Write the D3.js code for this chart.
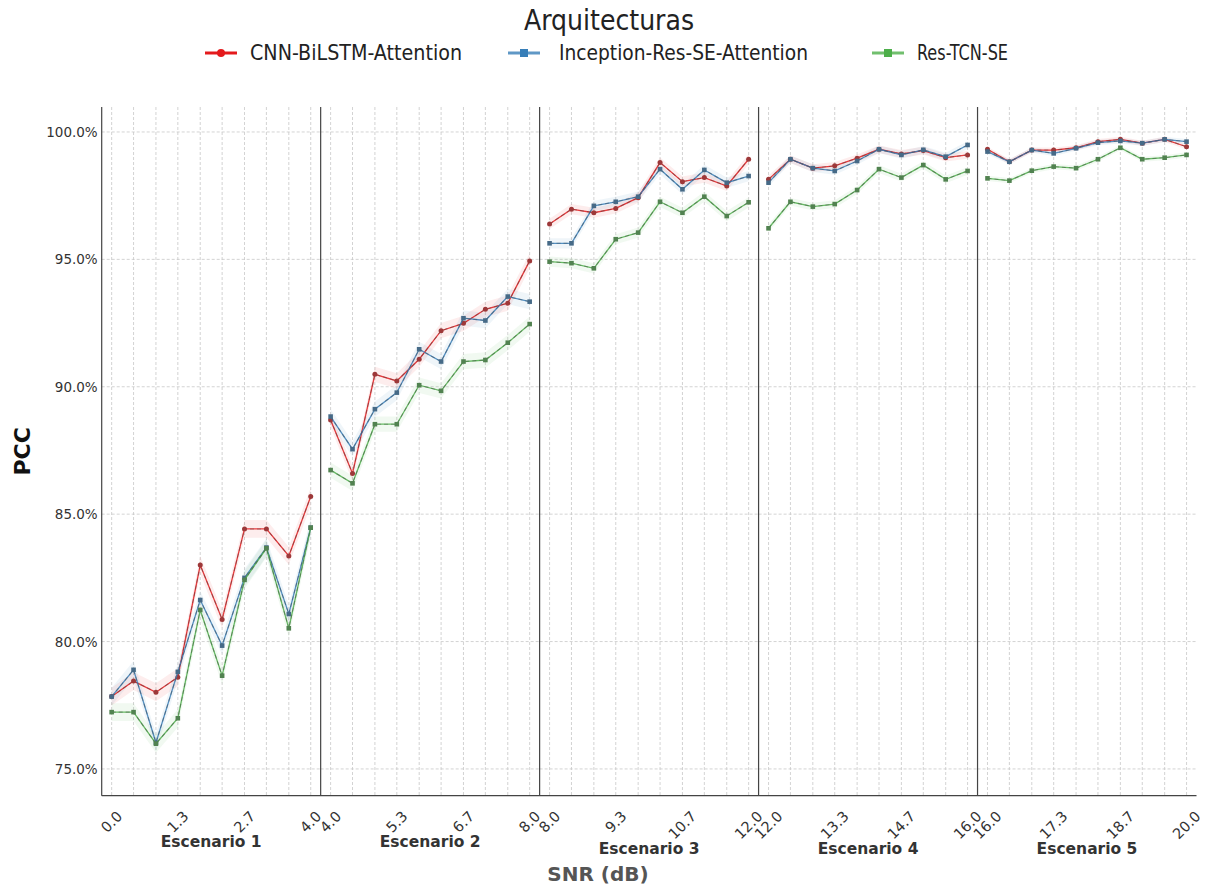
<!DOCTYPE html>
<html>
<head>
<meta charset="utf-8">
<script src="https://cdn.jsdelivr.net/npm/d3@7"></script>
<style>
  body { margin: 0; background: #fff; }
  svg { display: block; font-family: "DejaVu Sans", Verdana, sans-serif; }
</style>
</head>
<body>
<svg id="chart" width="1206" height="890"></svg>
<script>
// ---- data ----
const scenarios = ["Escenario 1", "Escenario 2", "Escenario 3", "Escenario 4", "Escenario 5"];
const scenarioStart = [0, 4, 8, 12, 16];
const snrOffsets = [0, 0.44, 0.89, 1.33, 1.78, 2.22, 2.67, 3.11, 3.56, 4];
const tickOffsets = [0, 1.33, 2.67, 4];
const yTicks = [75, 80, 85, 90, 95, 100];
const bandHalf = [0.35, 0.3, 0.2, 0.15, 0.1];   // rough width of the shaded bands

const architectures = ["CNN-BiLSTM-Attention", "Inception-Res-SE-Attention", "Res-TCN-SE"];
const archColors = ["#e41a1c", "#377eb8", "#4daf4a"];
const archMarkers = ["circle", "square", "square"];

const cnnValues = [
    [77.84, 78.45, 78.01, 78.60, 83.00, 80.87, 84.42, 84.42, 83.36, 85.69],
    [88.70, 86.60, 90.49, 90.23, 91.08, 92.20, 92.49, 93.04, 93.28, 94.94],
    [96.39, 96.97, 96.83, 97.00, 97.42, 98.80, 98.05, 98.21, 97.88, 98.93],
    [98.14, 98.93, 98.58, 98.67, 98.97, 99.32, 99.14, 99.27, 98.99, 99.10],
    [99.32, 98.83, 99.29, 99.29, 99.38, 99.62, 99.71, 99.56, 99.71, 99.42]
];
const inceptionValues = [
    [77.84, 78.89, 76.03, 78.81, 81.63, 79.84, 82.50, 83.69, 81.08, 84.47],
    [88.83, 87.55, 89.12, 89.77, 91.47, 90.99, 92.69, 92.60, 93.54, 93.34],
    [95.63, 95.63, 97.10, 97.26, 97.46, 98.54, 97.75, 98.51, 98.01, 98.27],
    [98.01, 98.93, 98.58, 98.47, 98.86, 99.32, 99.10, 99.30, 99.03, 99.49],
    [99.23, 98.83, 99.29, 99.16, 99.36, 99.58, 99.65, 99.56, 99.71, 99.62]
];
const resTcnValues = [
    [77.23, 77.23, 75.99, 76.99, 81.24, 78.66, 82.42, 83.66, 80.52, 84.47],
    [86.73, 86.21, 88.53, 88.53, 90.06, 89.84, 90.99, 91.05, 91.73, 92.46],
    [94.91, 94.85, 94.65, 95.79, 96.05, 97.26, 96.83, 97.46, 96.70, 97.24],
    [96.22, 97.26, 97.07, 97.17, 97.72, 98.54, 98.21, 98.70, 98.14, 98.47],
    [98.18, 98.09, 98.48, 98.64, 98.58, 98.93, 99.38, 98.93, 98.99, 99.10]
];
const archValues = [cnnValues, inceptionValues, resTcnValues];

// ---- layout ----
const svg = d3.select("#chart");
const plotLeft = 101.7, plotRight = 1196.5, plotTop = 107, plotBottom = 795.7;
const panelW = (plotRight - plotLeft) / scenarios.length;
const axisColor = "#444";
const gridColor = "#c8c8c8";

const y = d3.scaleLinear().domain([73.95, 100.98]).range([plotBottom, plotTop]);
const line = d3.line().x(d => d.px).y(d => y(d.v));
const area = d3.area().x(d => d.px).y0(d => y(d.v - d.h)).y1(d => y(d.v + d.h));

const ticksLayer = svg.append("g");

scenarios.forEach((name, si) => {
    const x0 = plotLeft + si * panelW;
    const s = scenarioStart[si];
    const x = d3.scaleLinear().domain([s - 0.2, s + 4.2]).range([x0, x0 + panelW]);
    const g = svg.append("g").attr("class", "panel");

    // grid
    g.selectAll("line.hgrid").data(yTicks).enter().append("line")
        .attr("x1", x0).attr("x2", x0 + panelW)
        .attr("y1", d => y(d)).attr("y2", d => y(d))
        .attr("stroke", gridColor).attr("stroke-width", 0.8).attr("stroke-dasharray", "3,2");
    g.selectAll("line.vgrid").data(snrOffsets).enter().append("line")
        .attr("x1", d => x(s + d)).attr("x2", d => x(s + d))
        .attr("y1", plotTop).attr("y2", plotBottom)
        .attr("stroke", gridColor).attr("stroke-width", 0.8).attr("stroke-dasharray", "3,2");

    // series
    architectures.forEach((arch, ai) => {
        const pts = archValues[ai][si].map((v, i) => ({ px: x(s + snrOffsets[i]), v: v, h: bandHalf[si] }));
        g.append("path").datum(pts).attr("d", area)
            .attr("fill", archColors[ai]).attr("fill-opacity", 0.08);
    });
    architectures.forEach((arch, ai) => {
        const pts = archValues[ai][si].map((v, i) => ({ px: x(s + snrOffsets[i]), v: v }));
        const col = archColors[ai];
        g.append("path").datum(pts).attr("d", line)
            .attr("fill", "none").attr("stroke", col).attr("stroke-width", 1.3).attr("stroke-opacity", 0.85);
        g.append("path").datum(pts).attr("d", line)
            .attr("fill", "none").attr("stroke", "#3c3c3c").attr("stroke-opacity", 0.4)
            .attr("stroke-width", 1.1).attr("stroke-dasharray", "4,3");
        const mcol = d3.interpolateRgb(col, "#555")(0.5);
        if (archMarkers[ai] === "circle") {
            g.selectAll(null).data(pts).enter().append("circle")
                .attr("cx", d => d.px).attr("cy", d => y(d.v)).attr("r", 2.5)
                .attr("fill", mcol);
        } else {
            g.selectAll(null).data(pts).enter().append("rect")
                .attr("x", d => d.px - 2.3).attr("y", d => y(d.v) - 2.3)
                .attr("width", 4.6).attr("height", 4.6).attr("fill", mcol);
        }
    });

    // panel left spine / divider
    g.append("line").attr("x1", x0).attr("x2", x0).attr("y1", plotTop).attr("y2", plotBottom)
        .attr("stroke", axisColor).attr("stroke-width", 1.2);

    // x tick labels, rotated 45deg and centred on the tick
    let maxBottom = 0;
    const labTop = plotBottom + 14;
    tickOffsets.forEach(off => {
        const val = s + off;
        const t = ticksLayer.append("text")
            .attr("font-size", 14.5).attr("fill", "#333")
            .attr("text-anchor", "middle").attr("dominant-baseline", "central")
            .text(val.toFixed(1));
        const w = t.node().getComputedTextLength();
        const h = 11;
        const half = (w + h) * Math.SQRT1_2 / 2;
        const cy = labTop + half;
        t.attr("transform", `translate(${x(val)},${cy}) rotate(-45)`);
        maxBottom = Math.max(maxBottom, cy + half);
    });
    svg.append("text")
        .attr("x", x0 + panelW / 2).attr("y", maxBottom + 2)
        .attr("text-anchor", "middle").attr("dominant-baseline", "hanging")
        .attr("font-size", 15.5).attr("font-weight", "bold").attr("fill", "#333")
        .text(name);
});

// bottom spine
svg.append("line").attr("x1", plotLeft).attr("x2", plotRight)
    .attr("y1", plotBottom).attr("y2", plotBottom)
    .attr("stroke", axisColor).attr("stroke-width", 1.2);

// y axis labels (first panel only)
svg.append("g").selectAll("text").data(yTicks).enter().append("text")
    .attr("x", plotLeft - 4).attr("y", d => y(d))
    .attr("text-anchor", "end").attr("dominant-baseline", "central")
    .attr("font-size", 13.5).attr("fill", "#333")
    .text(d => d.toFixed(1) + "%");

svg.append("text")
    .attr("transform", `translate(30,${(plotTop + plotBottom) / 2}) rotate(-90)`)
    .attr("text-anchor", "middle").attr("font-size", 22).attr("font-weight", "bold").attr("fill", "#111")
    .text("PCC");

svg.append("text")
    .attr("x", 598).attr("y", 881)
    .attr("text-anchor", "middle").attr("font-size", 20).attr("font-weight", "bold").attr("fill", "#555")
    .text("SNR (dB)");

// title + legend
const condensed = '"DejaVu Sans Condensed", "DejaVu Sans", sans-serif';
svg.append("text")
    .attr("x", 609).attr("y", 30)
    .attr("text-anchor", "middle").attr("font-size", 28).attr("fill", "#222")
    .style("font-family", condensed).style("font-stretch", "condensed")
    .text("Arquitecturas");

const legendX = [205, 508, 872];
architectures.forEach((arch, ai) => {
    const lg = svg.append("g").attr("transform", `translate(${legendX[ai]},53)`);
    const col = archColors[ai];
    lg.append("line").attr("x1", 0).attr("x2", 32).attr("y1", 0).attr("y2", 0)
        .attr("stroke", col).attr("stroke-width", 3).attr("stroke-opacity", ai === 0 ? 1 : 0.8);
    if (archMarkers[ai] === "circle") {
        lg.append("circle").attr("cx", 16).attr("cy", 0).attr("r", 4).attr("fill", col);
    } else {
        lg.append("rect").attr("x", 12).attr("y", -4).attr("width", 8).attr("height", 8).attr("fill", col);
    }
    lg.append("text").attr("x", ai === 1 ? 51 : 45).attr("y", 0)
        .attr("dominant-baseline", "central").attr("font-size", 21).attr("fill", "#222")
        .style("font-family", condensed).style("font-stretch", "condensed")
        .attr("textLength", [212, 249, 91][ai]).attr("lengthAdjust", "spacingAndGlyphs")
        .text(arch);
});
</script>
</body>
</html>
